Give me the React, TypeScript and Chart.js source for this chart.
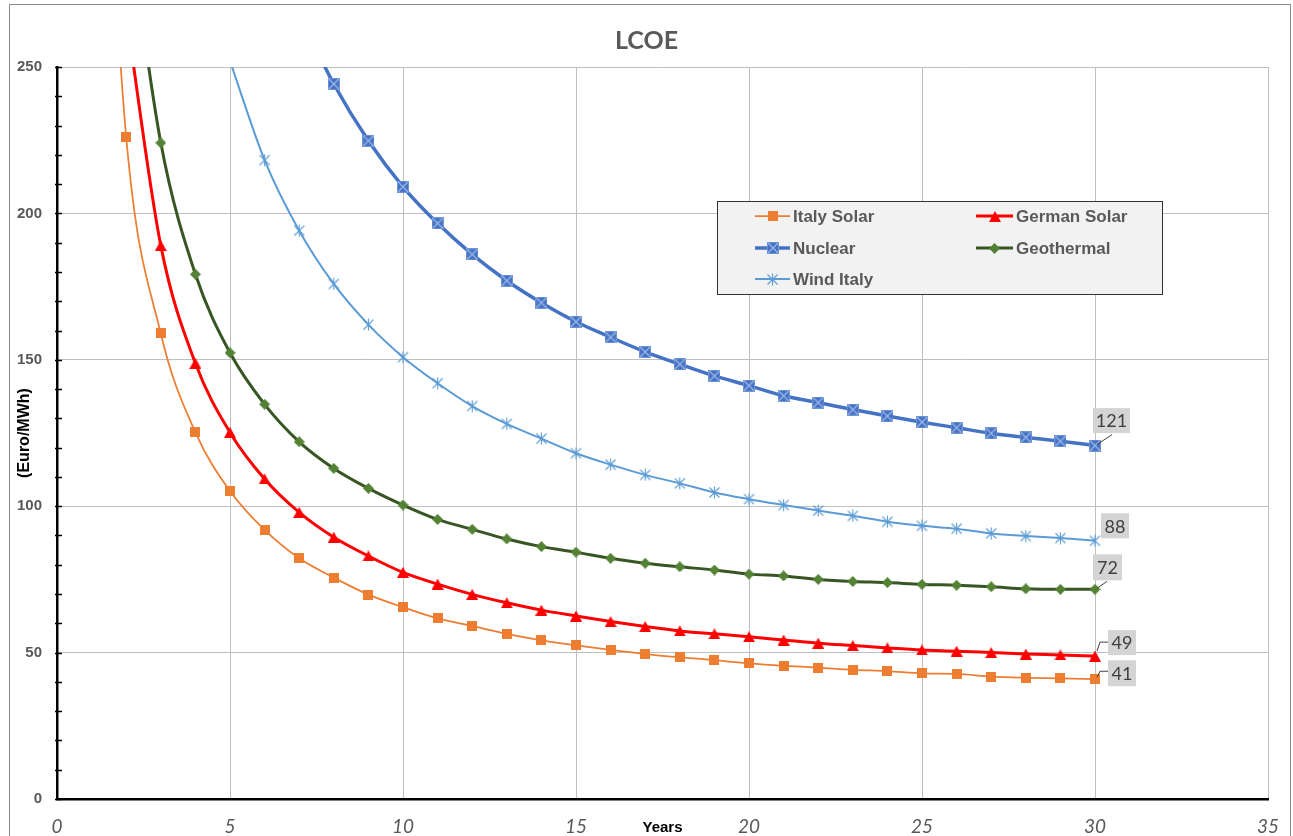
import React, { useEffect, useRef } from 'react';
import { Chart, registerables } from 'chart.js';

Chart.register(...registerables);

// ---- Data ----
const years = [1, 2, 3, 4, 5, 6, 7, 8, 9, 10, 11, 12, 13, 14, 15, 16, 17, 18, 19, 20, 21, 22, 23, 24, 25, 26, 27, 28, 29, 30];

const seriesNames = ['Italy Solar', 'German Solar', 'Nuclear', 'Geothermal', 'Wind Italy'];

const italySolar = [420, 226, 159, 125.2, 105.2, 91.9, 82.2, 75.6, 69.8, 65.5, 61.7, 59.1, 56.4, 54.2, 52.5, 50.9, 49.5, 48.4, 47.4, 46.3, 45.5, 44.9, 44.1, 43.7, 42.9, 42.7, 41.8, 41.4, 41.2, 40.9];

const germanSolar = [null, 268, 189, 148.8, 125.2, 109.3, 97.9, 89.4, 83.0, 77.4, 73.4, 69.9, 67.0, 64.5, 62.5, 60.6, 58.9, 57.4, 56.4, 55.4, 54.3, 53.2, 52.4, 51.6, 50.9, 50.5, 50.0, 49.5, 49.2, 48.8];

const nuclear = [null, null, null, null, null, null, 268, 244.2, 224.8, 209.1, 196.6, 186.0, 177.0, 169.5, 163.0, 157.7, 152.7, 148.5, 144.5, 141.2, 137.7, 135.4, 133.0, 130.8, 128.7, 126.8, 124.9, 123.5, 122.2, 120.7];

const geothermal = [null, 305, 224.1, 179.2, 152.4, 134.8, 122.0, 112.9, 106.1, 100.4, 95.5, 92.1, 88.8, 86.2, 84.3, 82.2, 80.5, 79.3, 78.2, 76.8, 76.2, 75.0, 74.3, 73.9, 73.3, 73.0, 72.5, 71.8, 71.6, 71.6];

const windItaly = [null, null, null, null, 252, 218.2, 194.1, 175.9, 162.0, 150.9, 142.0, 134.2, 128.1, 123.1, 118.1, 114.2, 110.7, 107.8, 104.7, 102.4, 100.4, 98.5, 96.7, 94.7, 93.3, 92.3, 90.7, 89.8, 89.1, 88.2];

const seriesValues = [italySolar, germanSolar, nuclear, geothermal, windItaly];

const chartTitle = 'LCOE';
const xTitle = 'Years';
const yTitle = '(Euro/MWh)';
const xTicksMin = 0;
const xTicksMax = 35;
const yTicksMin = 0;
const yTicksMax = 250;

// ---- Styles ----
const lineColors = ['#ED7D31', '#FF0000', '#4472C4', '#375623', '#5B9BD5'];
const lineWidths = [1.75, 3, 3.5, 3, 2];

// label box styles for the last point of each series (offsets relative to point)
const labelStyles = [
  { dx: 27, dy: -6, w: 28, h: 26, leader: [[2, -2], [5, -8], [13, -8]] },
  { dx: 27, dy: -13.5, w: 28, h: 25, leader: [[2, -5], [5, -14], [13, -14]] },
  { dx: 16.5, dy: -25, w: 37, h: 25, leader: [[2, -1], [17, -11]] },
  { dx: 12.5, dy: -22, w: 29, h: 26, leader: [[2, -1], [12, -8]] },
  { dx: 20, dy: -15, w: 28, h: 25, leader: [] as number[][] },
];

function makeCanvas(w: number, h: number) {
  const c = document.createElement('canvas');
  c.width = w;
  c.height = h;
  return c;
}

function makeMarkers(): HTMLCanvasElement[] {
  // Italy Solar - orange square
  const sq = makeCanvas(10, 10);
  let g = sq.getContext('2d')!;
  g.fillStyle = '#ED7D31';
  g.fillRect(0, 0, 10, 10);

  // German Solar - red triangle
  const tri = makeCanvas(12, 11);
  g = tri.getContext('2d')!;
  g.fillStyle = '#FF0000';
  g.beginPath();
  g.moveTo(6, 0);
  g.lineTo(12, 11);
  g.lineTo(0, 11);
  g.closePath();
  g.fill();

  // Nuclear - blue square with X
  const sx = makeCanvas(12, 12);
  g = sx.getContext('2d')!;
  g.fillStyle = '#4472C4';
  g.fillRect(0, 0, 12, 12);
  g.strokeStyle = '#6d93d6';
  g.lineWidth = 1;
  g.strokeRect(0.5, 0.5, 11, 11);
  g.strokeStyle = '#9fb9e8';
  g.lineWidth = 1.2;
  g.beginPath();
  g.moveTo(1, 1);
  g.lineTo(11, 11);
  g.moveTo(11, 1);
  g.lineTo(1, 11);
  g.stroke();

  // Geothermal - green diamond
  const dia = makeCanvas(11, 11);
  g = dia.getContext('2d')!;
  g.fillStyle = '#548235';
  g.beginPath();
  g.moveTo(5.5, 0);
  g.lineTo(11, 5.5);
  g.lineTo(5.5, 11);
  g.lineTo(0, 5.5);
  g.closePath();
  g.fill();

  // Wind Italy - asterisk
  const ast = makeCanvas(13, 13);
  g = ast.getContext('2d')!;
  g.strokeStyle = '#5B9BD5';
  g.lineWidth = 1.1;
  g.beginPath();
  g.moveTo(1.5, 1.5);
  g.lineTo(11.5, 11.5);
  g.moveTo(11.5, 1.5);
  g.lineTo(1.5, 11.5);
  g.moveTo(6.5, 0.5);
  g.lineTo(6.5, 12.5);
  g.stroke();

  return [sq, tri, sx, dia, ast];
}

export default function App() {
  const ref = useRef<HTMLCanvasElement | null>(null);

  useEffect(() => {
    document.body.style.margin = '0';
    const canvas = ref.current;
    if (!canvas) return;
    const markers = makeMarkers();

    const datasets = seriesNames.map((name, i) => ({
      label: name,
      data: years.map((x, k) => ({ x, y: seriesValues[i][k] })),
      borderColor: lineColors[i],
      backgroundColor: lineColors[i],
      borderWidth: lineWidths[i],
      cubicInterpolationMode: 'monotone' as const,
      pointStyle: markers[i],
      pointRadius: (ctx: any) => (ctx.raw && ctx.raw.y != null && ctx.raw.y > yTicksMax ? 0 : 5),
      spanGaps: false,
    }));

    const decoPlugin = {
      id: 'deco',
      beforeDraw(chart: any) {
        const c = chart.ctx;
        c.save();
        c.fillStyle = '#ffffff';
        c.fillRect(0, 0, chart.width, chart.height);
        c.strokeStyle = '#8c8c8c';
        c.lineWidth = 1;
        c.strokeRect(9.5, 4.5, chart.width - 12, chart.height + 10);
        // title
        c.fillStyle = '#595959';
        c.font = 'bold 25px Lato';
        c.textAlign = 'center';
        c.textBaseline = 'middle';
        c.fillText(chartTitle, chart.width / 2, 41);
        c.restore();
      },
      afterDatasetsDraw(chart: any) {
        const c = chart.ctx;
        c.save();
        // minor/major tick marks on the y axis crossing the axis line
        const ys = chart.scales.y;
        const axX = chart.chartArea.left;
        c.strokeStyle = '#000000';
        c.lineWidth = 1.5;
        c.beginPath();
        ys.ticks.forEach((t: any) => {
          const py = Math.round(ys.getPixelForValue(t.value)) + 0.5;
          c.moveTo(axX - 2, py);
          c.lineTo(axX + 5, py);
        });
        c.stroke();

        chart.data.datasets.forEach((ds: any, i: number) => {
          const meta = chart.getDatasetMeta(i);
          const last = meta.data[meta.data.length - 1];
          if (!last) return;
          const st = labelStyles[i];
          const px = last.x;
          const py = last.y;
          if (st.leader.length > 1) {
            c.strokeStyle = '#404040';
            c.lineWidth = 1;
            c.beginPath();
            st.leader.forEach((p: number[], k: number) => {
              if (k === 0) c.moveTo(px + p[0], py + p[1]);
              else c.lineTo(px + p[0], py + p[1]);
            });
            c.stroke();
          }
          const cx = px + st.dx;
          const cy = py + st.dy;
          c.fillStyle = '#d4d4d4';
          c.fillRect(cx - st.w / 2, cy - st.h / 2, st.w, st.h);
          c.fillStyle = '#404040';
          c.font = '18px Lato';
          c.textAlign = 'center';
          c.textBaseline = 'middle';
          const v = ds.data[ds.data.length - 1].y;
          c.fillText(String(Math.round(v)), cx, cy + 1);
        });
        c.restore();
      },
      afterDraw(chart: any) {
        const c = chart.ctx;
        c.save();
        // legend box
        const bx = 717.5, by = 201.5, bw = 445, bh = 93;
        c.fillStyle = '#f2f2f2';
        c.fillRect(bx, by, bw, bh);
        c.strokeStyle = '#333333';
        c.lineWidth = 1;
        c.strokeRect(bx, by, bw, bh);
        const colLineStart = [755, 976];
        const colLineEnd = [790, 1013];
        const rowY = [216, 248, 279];
        chart.data.datasets.forEach((ds: any, i: number) => {
          const col = i % 2;
          const row = Math.floor(i / 2);
          const y = rowY[row];
          const x0 = colLineStart[col];
          const x1 = colLineEnd[col];
          c.strokeStyle = ds.borderColor;
          c.lineWidth = ds.borderWidth;
          c.beginPath();
          c.moveTo(x0, y);
          c.lineTo(x1, y);
          c.stroke();
          const m = markers[i];
          c.drawImage(m, Math.round((x0 + x1) / 2 - m.width / 2), Math.round(y - m.height / 2));
          c.fillStyle = '#595959';
          c.font = 'bold 17px "Liberation Sans"';
          c.textAlign = 'left';
          c.textBaseline = 'middle';
          c.fillText(ds.label, x1 + 3, y + 1);
        });
        c.restore();
      },
    };

    Chart.defaults.font.family = '"Liberation Sans", Arial, sans-serif';

    const chart = new Chart(canvas, {
      type: 'line',
      data: { datasets },
      options: {
        responsive: false,
        animation: false,
        layout: { padding: { left: 0, right: 25, top: 67, bottom: 0 } },
        plugins: {
          legend: { display: false },
          tooltip: { enabled: false },
          title: { display: false },
        },
        scales: {
          x: {
            type: 'linear',
            min: xTicksMin,
            max: xTicksMax,
            ticks: {
              stepSize: 5,
              color: '#595959',
              font: { family: 'Lato', size: 19, style: 'italic' },
              padding: 16,
              maxRotation: 0,
            },
            grid: { color: '#bfbfbf', lineWidth: 1, drawTicks: false },
            border: { color: '#000000', width: 2.5 },
            title: {
              display: true,
              text: xTitle,
              color: '#000000',
              font: { family: '"Liberation Sans"', size: 15, weight: 'bold', lineHeight: 1 },
              padding: { top: 0, bottom: 0.5 },
            },
            afterFit: (s: any) => {
              s.height = 37;
              s.paddingRight = 0;
              s.paddingLeft = 0;
            },
          },
          y: {
            type: 'linear',
            min: yTicksMin,
            max: yTicksMax,
            ticks: {
              stepSize: 10,
              autoSkip: false,
              callback: (v: any) => (Number(v) % 50 === 0 ? String(v) : ''),
              color: '#595959',
              font: { family: '"Liberation Sans"', size: 15, weight: 'bold' },
              padding: 15,
            },
            grid: {
              color: (ctx: any) => (ctx.tick && ctx.tick.value % 50 === 0 ? '#bfbfbf' : 'rgba(0,0,0,0)'),
              lineWidth: 1,
              drawTicks: false,
            },
            border: { color: '#000000', width: 2.5 },
            title: {
              display: true,
              text: yTitle,
              color: '#000000',
              font: { family: '"Liberation Sans"', size: 16, weight: 'bold', lineHeight: 1.2 },
              padding: { top: 15, bottom: 0 },
            },
            afterFit: (s: any) => {
              s.width = 57;
            },
          },
        },
      } as any,
      plugins: [decoPlugin],
    });

    return () => {
      chart.destroy();
    };
  }, []);

  return (
    <div style={{ width: 1293, height: 836, position: 'relative' }}>
      <canvas ref={ref} width={1293} height={836} style={{ display: 'block' }} />
    </div>
  );
}
